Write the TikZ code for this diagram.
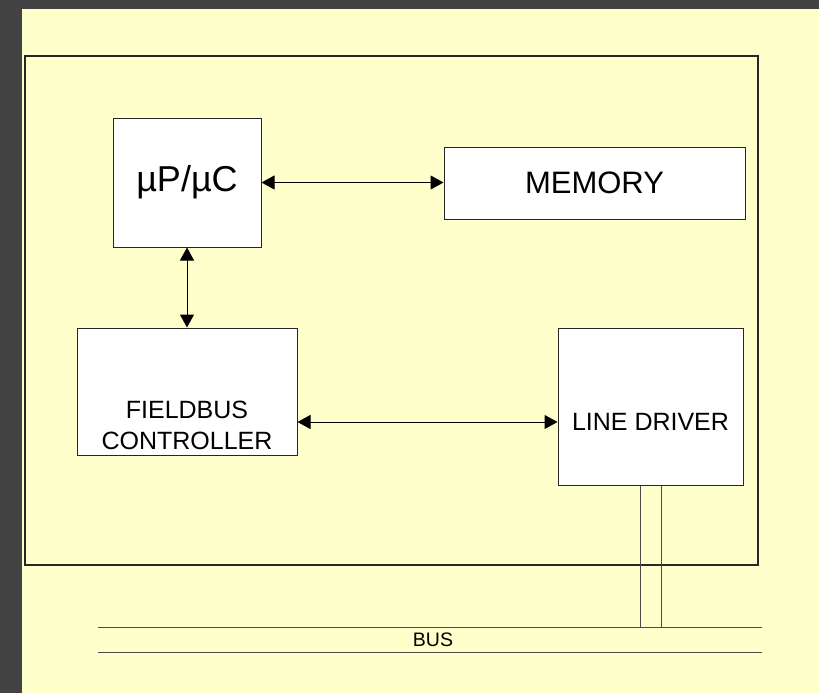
\documentclass[tikz,border=0pt]{standalone}
\usepackage{fontspec}
\setmainfont{Liberation Sans}
\usetikzlibrary{arrows.meta}
\definecolor{paper}{HTML}{FFFFCC}
\definecolor{slate}{HTML}{434343}

\begin{document}
\begin{tikzpicture}[x=1pt, y=-1pt,
  box/.style={draw=black!85, line width=1pt, fill=white, inner sep=0pt},
  lbl/.style={font=\fontsize{25}{31}\selectfont, align=center},
  arr/.style={{Triangle[length=13pt,width=14pt]}-{Triangle[length=13pt,width=14pt]}, line width=1pt},
  wire/.style={draw=black!70, line width=1pt}
]
\fill[slate] (0,0) rectangle (819,693);
\fill[paper] (22,9) rectangle (819,693);
\node[draw=black!85, line width=1.2pt, minimum width=733pt, minimum height=509pt] (board) at (391.5,310.5) {};

\node[box, minimum width=148pt, minimum height=129pt, font=\fontsize{36}{43}\selectfont] (mpu) at (187,182.5) {µP/µC};
\node[box, minimum width=301pt, minimum height=72pt, font=\fontsize{31}{37}\selectfont] (mem) at (594.5,183) {MEMORY};
\node[box, minimum width=220pt, minimum height=127pt] (fbc) at (187,391.5) {};
\node[lbl] (fbclbl) at (187,425) {FIELDBUS\\CONTROLLER};
\node[box, minimum width=185pt, minimum height=157pt] (ld) at (650.5,406.5) {};
\node[lbl] (ldlbl) at (650.5,422) {LINE DRIVER};

\draw[arr] (mpu.east) -- (mpu.east -| mem.west);
\draw[arr] (mpu.south) -- (fbc.north);
\draw[arr] (fbc.east |- ldlbl) -- (ld.west |- ldlbl);

\coordinate (busl) at (98,627);
\coordinate (busr) at (762,627);
\draw[wire] (busl) -- (busr);
\draw[wire] ([yshift=-25pt]busl) -- ([yshift=-25pt]busr);
\node[font=\fontsize{19.5}{23}\selectfont] (buslbl) at (433,640) {BUS};
\draw[wire] ([xshift=-10.5pt]ld.south) -- ([xshift=-10.5pt]ld.south |- busl);
\draw[wire] ([xshift=10.5pt]ld.south) -- ([xshift=10.5pt]ld.south |- busl);
\end{tikzpicture}
\end{document}
